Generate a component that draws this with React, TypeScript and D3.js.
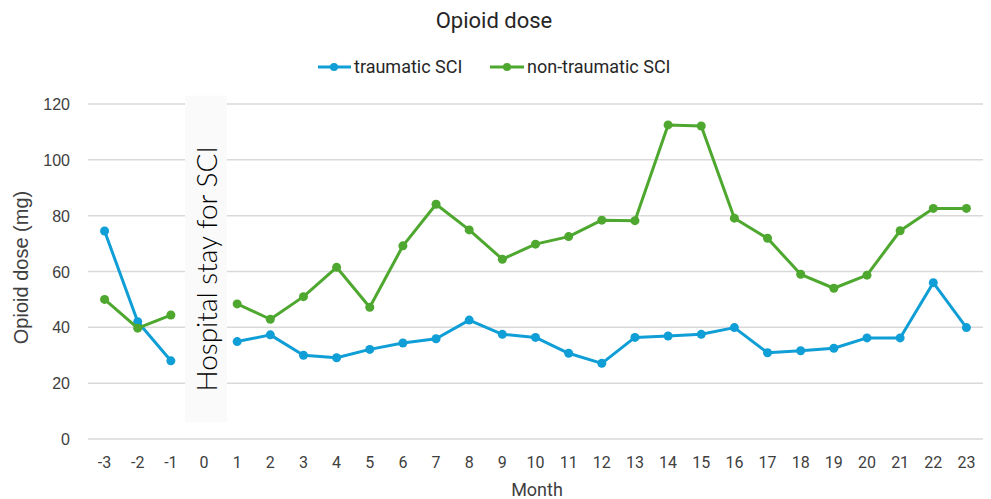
import React from "react";
import * as d3 from "d3";

const months = ["-3", "-2", "-1", "0", "1", "2", "3", "4", "5", "6", "7", "8", "9", "10", "11", "12", "13", "14", "15", "16", "17", "18", "19", "20", "21", "22", "23"];
// null = hospital stay month (no value)
const traumatic = [74.5, 42, 28, null, 34.9, 37.3, 30, 29.1, 32.1, 34.4, 35.9, 42.6, 37.5, 36.4, 30.7, 27.1, 36.4, 36.9, 37.5, 39.9, 30.9, 31.6, 32.5, 36.2, 36.2, 56, 39.9];
const nonTraumatic = [50, 39.7, 44.4, null, 48.4, 42.9, 51, 61.5, 47.2, 69.2, 84.1, 74.9, 64.4, 69.8, 72.5, 78.4, 78.2, 112.5, 112.1, 79.1, 71.9, 59, 54, 58.7, 74.6, 82.6, 82.6];
const yTicks = [0, 20, 40, 60, 80, 100, 120];

const seriesList = [
  { name: "traumatic SCI", values: traumatic, color: "#0F9ED5" },
  { name: "non-traumatic SCI", values: nonTraumatic, color: "#4EA72E" },
];

const W = 991;
const H = 499;
const font = "Roboto, 'Open Sans', sans-serif";

export default function App() {
  const x = d3.scalePoint<string>().domain(months).range([88, 983]).padding(0.5);
  const y = d3.scaleLinear().domain([0, 120]).range([439, 104]);

  const line = d3
    .line<number | null>()
    .defined((d) => d != null)
    .x((_, i) => x(months[i]) as number)
    .y((d) => y(d as number));

  const x0 = x("0") as number;

  return (
    <svg width={W} height={H} style={{ position: "absolute", left: 0, top: 0 }} fontFamily={font}>
      <rect width={W} height={H} fill="#fff" />
      <text x={494} y={28} textAnchor="middle" fontSize={22} fill="#262626">
        Opioid dose
      </text>

      {/* legend */}
      <g>
        <line x1={318} x2={351} y1={67} y2={67} stroke={seriesList[0].color} strokeWidth={3} />
        <circle cx={334} cy={67} r={4} fill={seriesList[0].color} />
        <text x={354} y={73} fontSize={18} fill="#262626">{seriesList[0].name}</text>
        <line x1={490} x2={524} y1={67} y2={67} stroke={seriesList[1].color} strokeWidth={3} />
        <circle cx={507} cy={67} r={4} fill={seriesList[1].color} />
        <text x={527} y={73} fontSize={18} fill="#262626">{seriesList[1].name}</text>
      </g>

      {/* grid + y ticks */}
      {yTicks.map((t) => (
        <g key={t}>
          <line x1={88} x2={983} y1={y(t)} y2={y(t)} stroke="#d9d9d9" strokeWidth={1.5} />
          <text x={70} y={y(t) + 6} textAnchor="end" fontSize={16} fill="#404040" fontFamily="'Liberation Sans', Arial, sans-serif">{t}</text>
        </g>
      ))}

      {/* hospital stay box */}
      <rect x={x0 - 19} y={y(123)} width={42} height={y(6) - y(123)} fill="#fafafa" />
      <text
        transform={`translate(${x0 + 13},${(y(123) + y(6)) / 2 + 10}) rotate(-90)`}
        textAnchor="middle"
        fontSize={28}
        fontFamily="Lato, sans-serif"
        fontWeight={300}
        fill="#000"
      >
        Hospital stay for SCI
      </text>

      {/* x ticks */}
      {months.map((m) => (
        <text key={m} x={x(m)} y={468} textAnchor="middle" fontSize={16} fill="#404040">{m}</text>
      ))}

      <text x={537} y={496} textAnchor="middle" fontSize={18} fill="#404040">Month</text>
      <text transform={`translate(28,${(y(0) + y(120)) / 2 - 4}) rotate(-90)`} textAnchor="middle" fontSize={20} fill="#404040" fontFamily="'Liberation Sans', Arial, sans-serif">
        Opioid dose (mg)
      </text>

      {seriesList.map((s) => (
        <g key={s.name}>
          <path d={line(s.values) || ""} fill="none" stroke={s.color} strokeWidth={3} strokeLinejoin="round" />
          {s.values.map((v, i) =>
            v == null ? null : <circle key={i} cx={x(months[i])} cy={y(v)} r={4.5} fill={s.color} />
          )}
        </g>
      ))}
    </svg>
  );
}
